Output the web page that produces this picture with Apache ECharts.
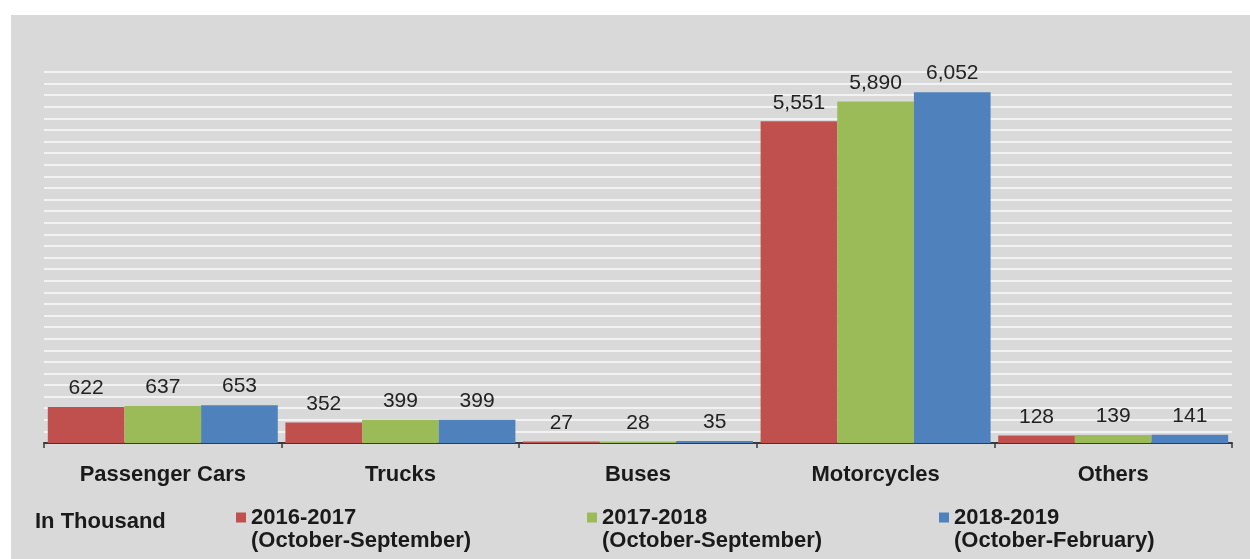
<!DOCTYPE html>
<html>
<head>
<meta charset="utf-8">
<script src="https://cdn.jsdelivr.net/npm/echarts@6/dist/echarts.min.js"></script>
<style>
html,body{margin:0;padding:0;background:#fff;}
#chart{width:1250px;height:559px;}
</style>
</head>
<body>
<div id="chart"></div>
<script>
var categories = ['Passenger Cars', 'Trucks', 'Buses', 'Motorcycles', 'Others'];
var seriesNames = ['2016-2017', '2017-2018', '2018-2019'];
var seriesPeriods = ['(October-September)', '(October-September)', '(October-February)'];
var values2016 = [622, 352, 27, 5551, 128];
var values2017 = [637, 399, 28, 5890, 139];
var values2018 = [653, 399, 35, 6052, 141];
var unitLabel = 'In Thousand';
var colors = ['#c0504d', '#9bbb59', '#4f81bd'];

var FONT = '"Liberation Sans", Arial, sans-serif';
var chart = echarts.init(document.getElementById('chart'), null, {renderer: 'canvas'});

var allValues = [values2016, values2017, values2018];
var legendLefts = [236, 587, 939];

function makeSeries(i) {
  return {
    name: seriesNames[i],
    type: 'bar',
    data: allValues[i],
    barGap: '0%',
    barCategoryGap: '3.2%',
    itemStyle: {color: colors[i]},
    label: {
      show: true,
      position: 'top',
      distance: 8,
      fontFamily: FONT,
      fontSize: 21,
      color: '#222',
      formatter: function (p) { return p.value.toLocaleString('en-US'); }
    }
  };
}

var legends = seriesNames.map(function (n, i) {
  return {
    data: [n],
    left: legendLefts[i],
    top: 506,
    padding: 0,
    itemWidth: 10,
    itemHeight: 33,
    icon: 'path://M0,0H10V10H0Z M0,33H10',
    selectedMode: false,
    formatter: function (name) { return name + '\n' + seriesPeriods[i]; },
    textStyle: {
      fontFamily: FONT,
      fontSize: 22,
      fontWeight: 'bold',
      color: '#1a1a1a',
      lineHeight: 23
    }
  };
});

chart.setOption({
  animation: false,
  backgroundColor: '#ffffff',
  color: colors,
  graphic: [
    {type: 'rect', z: -10, shape: {x: 11, y: 15, width: 1239, height: 544}, style: {fill: '#d9d9d9'}},
    {type: 'text', z: 10, left: 35, top: 511, style: {text: unitLabel, font: 'bold 22px ' + FONT, fill: '#1a1a1a'}}
  ],
  legend: legends,
  grid: {left: 44, right: 18, top: 72, bottom: 116, containLabel: false},
  xAxis: {
    type: 'category',
    data: categories,
    axisLine: {lineStyle: {color: '#3a3a3a', width: 2}},
    axisTick: {show: true, length: 5, lineStyle: {color: '#3a3a3a', width: 1.5}},
    axisLabel: {margin: 21, fontFamily: FONT, fontSize: 22, fontWeight: 'bold', color: '#1a1a1a'}
  },
  yAxis: {
    type: 'value',
    min: 0,
    max: 6400,
    interval: 200,
    axisLine: {show: false},
    axisTick: {show: false},
    axisLabel: {show: false},
    splitLine: {show: true, lineStyle: {color: '#fafafa', width: 1.5}}
  },
  series: [makeSeries(0), makeSeries(1), makeSeries(2)]
});
</script>
</body>
</html>
